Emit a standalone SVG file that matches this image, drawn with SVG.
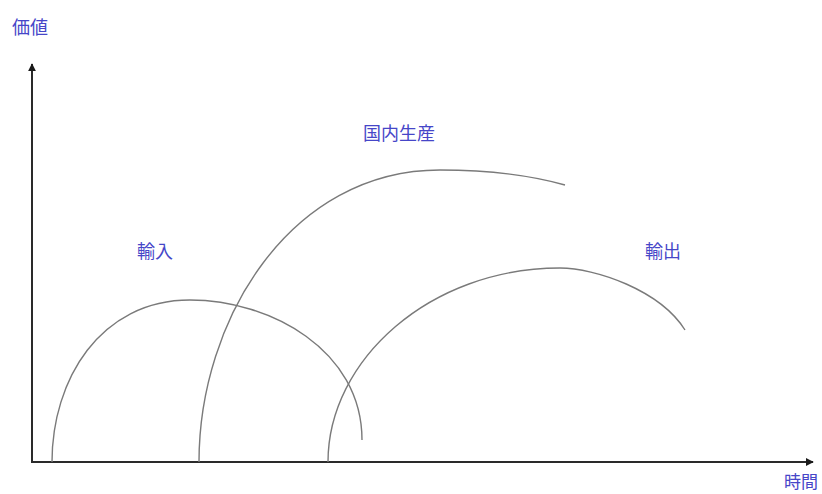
<svg xmlns="http://www.w3.org/2000/svg" width="822" height="494" viewBox="0 0 822 494">
<style>
.axis{stroke:#2a2a2a;stroke-width:2;fill:none}
.curve{stroke:#7a7a7a;stroke-width:1.4;fill:none}
.lbl{font-family:"Noto Sans CJK JP","Noto Sans CJK SC",sans-serif;font-size:18px;fill:#4646c8}
</style>
<defs>
<marker id="arr" viewBox="0 0 10 10" refX="9" refY="5" markerWidth="4" markerHeight="4" orient="auto" markerUnits="strokeWidth">
<path d="M0,0 L10,5 L0,10 z" fill="#1a1a1a"/>
</marker>
</defs>
<rect width="822" height="494" fill="#ffffff"/>
<g id="axes">
<path class="axis" d="M32,462 L32,64" marker-end="url(#arr)"/>
<path class="axis" d="M31,462 L813,462" marker-end="url(#arr)"/>
</g>
<g id="connectors">
<path id="import-curve" class="curve" d="M52,462 C52,380 100,300 190,300 C270,300 362,350 362,440"/>
<path id="domestic-curve" class="curve" d="M199,462 C199,320 290,170 440,170 C500,170 540,178 565,185"/>
<path id="export-curve" class="curve" d="M328,462 C328,360 430,268 560,268 C595,268 660,290 685,330"/>
</g>
<g id="label-value"><text class="lbl" x="12" y="34">価値</text></g>
<g id="label-domestic"><text class="lbl" x="363" y="140">国内生産</text></g>
<g id="label-import"><text class="lbl" x="137" y="258">輸入</text></g>
<g id="label-export"><text class="lbl" x="645" y="258">輸出</text></g>
<g id="label-time"><text class="lbl" x="784" y="488" style="font-size:17px">時間</text></g>
</svg>
